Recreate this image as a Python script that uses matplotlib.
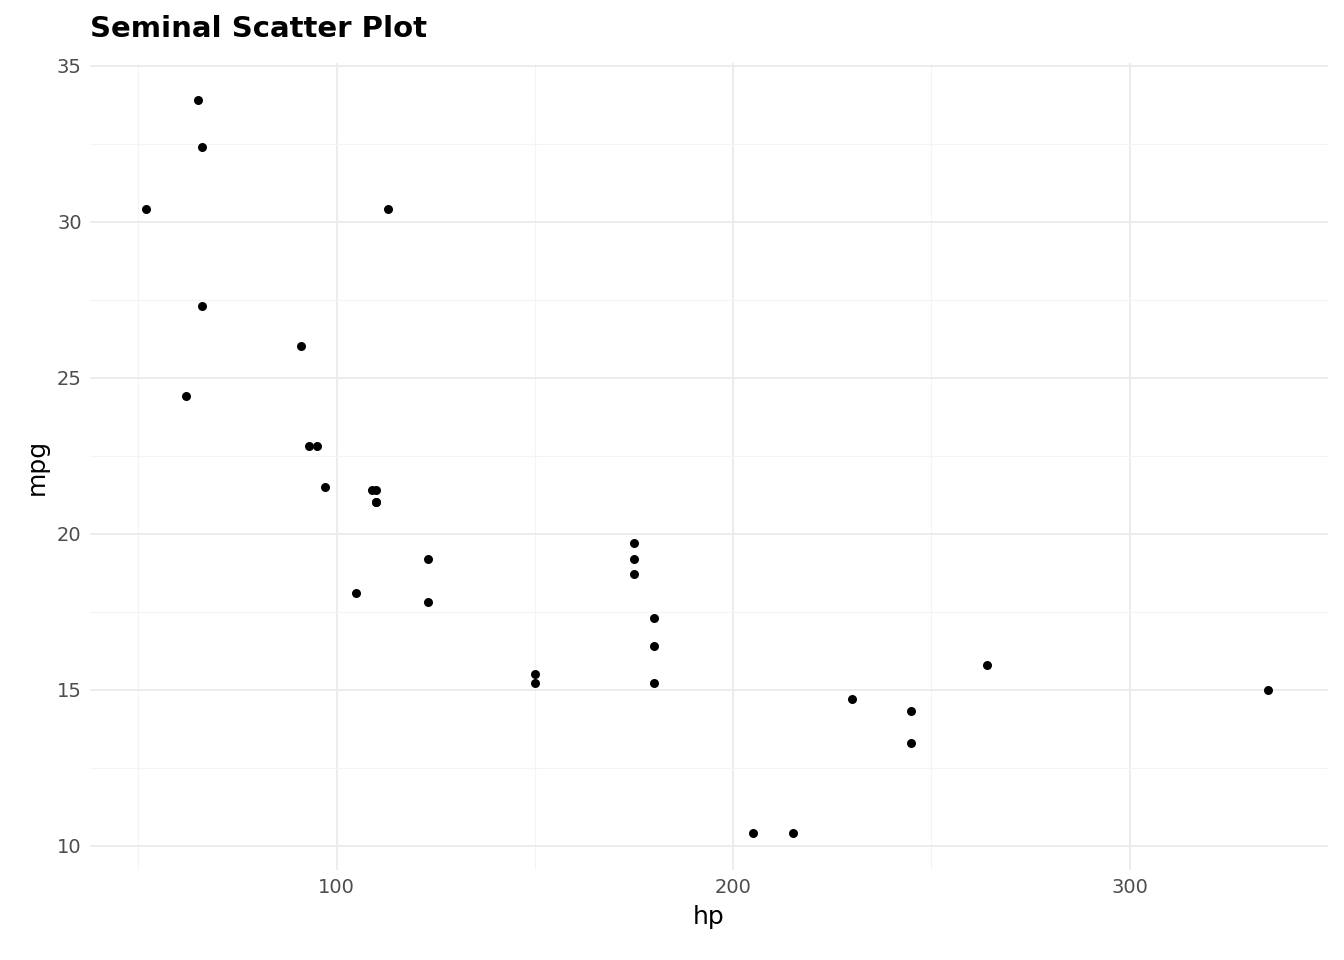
import matplotlib
matplotlib.use("Agg")
import matplotlib.pyplot as plt

# mtcars horsepower vs miles per gallon
hp = [110, 110, 93, 110, 175, 105, 245, 62, 95, 123, 123, 180, 180, 180, 205, 215,
      230, 66, 52, 65, 97, 150, 150, 245, 175, 66, 91, 113, 264, 175, 335, 109]
mpg = [21, 21, 22.8, 21.4, 18.7, 18.1, 14.3, 24.4, 22.8, 19.2, 17.8, 16.4, 17.3, 15.2,
       10.4, 10.4, 14.7, 32.4, 30.4, 33.9, 21.5, 15.5, 15.2, 13.3, 19.2, 27.3, 26, 30.4,
       15.8, 19.7, 15, 21.4]
x_ticks = [100, 200, 300]
y_ticks = [10, 15, 20, 25, 30, 35]

fig = plt.figure(figsize=(13.44, 9.6), dpi=100)
ax = fig.add_axes([0.067, 0.094, 0.921, 0.84])

ax.scatter(hp, mpg, s=42, color="black", zorder=3, linewidths=0)

xr = max(hp) - min(hp)
yr = max(mpg) - min(mpg)
ax.set_xlim(min(hp) - 0.05 * xr, max(hp) + 0.05 * xr)
ax.set_ylim(min(mpg) - 0.05 * yr, max(mpg) + 0.05 * yr)

ax.set_xticks(x_ticks)
ax.set_yticks(y_ticks)
ax.set_xticks([50, 150, 250, 350], minor=True)
ax.set_yticks([12.5, 17.5, 22.5, 27.5, 32.5], minor=True)
ax.grid(True, which="major", color="#EBEBEB", linewidth=1.3)
ax.grid(True, which="minor", color="#F4F4F4", linewidth=0.8)
ax.set_axisbelow(True)
ax.tick_params(which="both", length=0, labelsize=14, labelcolor="#4D4D4D", pad=6)
for s in ax.spines.values():
    s.set_visible(False)

ax.set_xlabel("hp", fontsize=18, labelpad=6)
ax.set_ylabel("mpg", fontsize=18, labelpad=6)
fig.text(0.067, 0.97, "Seminal Scatter Plot", fontsize=21, fontweight="bold",
         ha="left", va="center")

fig.savefig("out.png", dpi=100)
